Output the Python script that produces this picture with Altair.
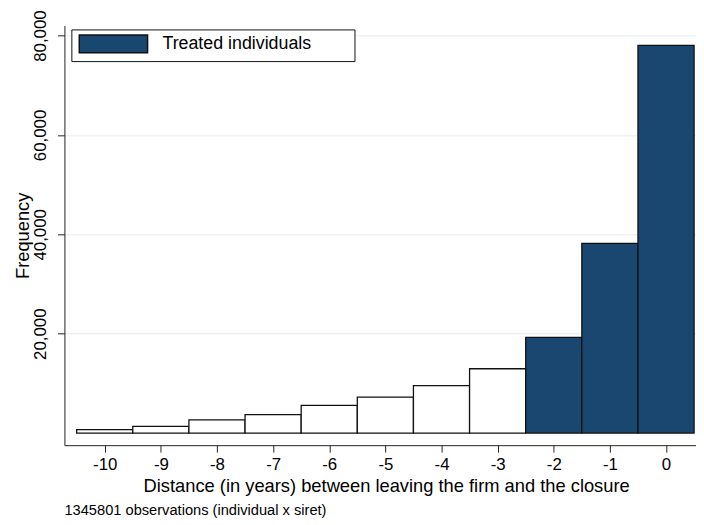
import altair as alt
import pandas as pd

# ---- data ----
distance = [-10, -9, -8, -7, -6, -5, -4, -3, -2, -1, 0]
frequency = [700, 1350, 2650, 3700, 5600, 7250, 9550, 12950, 19250, 38200, 78000]
group = ["Other"] * 8 + ["Treated individuals"] * 3
x_ticks = [-10, -9, -8, -7, -6, -5, -4, -3, -2, -1, 0]
y_ticks = [20000, 40000, 60000, 80000]
legend_labels = ["Treated individuals"]
x_title = "Distance (in years) between leaving the firm and the closure"
y_title = "Frequency"
note = "1345801 observations (individual x siret)"

FONT = "Liberation Sans"
NAVY = "#1a476f"

# legend key: a wide rectangle plus two invisible points that widen the legend frame
KEY_PATH = "M-4.348,0L-4.348,0M-4,-1.04H4V1.04H-4ZM27.3,0L27.3,0"

df = pd.DataFrame({"distance": distance, "frequency": frequency, "group": group})

chart = (
    alt.Chart(df)
    .transform_calculate(lo="datum.distance - 0.5", hi="datum.distance + 0.5")
    .mark_bar(stroke="#111111", strokeWidth=1.3, strokeJoin="miter")
    .encode(
        x=alt.X(
            "lo:Q",
            scale=alt.Scale(domain=[-10.718, 0.534], nice=False, zero=False),
            axis=alt.Axis(
                values=x_ticks,
                labelExpr="'' + datum.value",
                title=x_title,
                grid=False,
                tickSize=7,
                labelFontSize=17,
                labelPadding=5,
                titleFontSize=18.5,
                titleX=325,
                titleY=47,
                titleAlign="center",
                titleBaseline="alphabetic",
            ),
        ),
        x2="hi:Q",
        y=alt.Y(
            "frequency:Q",
            scale=alt.Scale(domain=[-2430, 82030], nice=False, zero=False),
            axis=alt.Axis(
                values=y_ticks,
                format=",.0f",
                title=y_title,
                grid=True,
                gridColor="#e4ecf0",
                gridWidth=1,
                tickSize=7,
                labelAngle=270,
                labelAlign="center",
                labelBaseline="bottom",
                labelPadding=8,
                labelFontSize=17,
                titleAngle=270,
                titleX=-36.7,
                titleY=212,
                titleAlign="center",
                titleBaseline="alphabetic",
                titleFontSize=18.5,
            ),
        ),
        y2=alt.datum(0),
        color=alt.Color(
            "group:N",
            scale=alt.Scale(domain=["Treated individuals", "Other"], range=[NAVY, "#ffffff"]),
            legend=alt.Legend(
                values=legend_labels,
                title=None,
                orient="none",
                legendX=7,
                legendY=4,
                symbolType=KEY_PATH,
                symbolSize=297.6,
                symbolStrokeColor="#111111",
                symbolStrokeWidth=1.5,
                symbolOpacity=1,
                symbolOffset=28,
                labelOffset=40,
                labelFontSize=18,
                labelFont=FONT,
                labelColor="black",
                labelLimit=400,
                padding=5,
                strokeColor="#111111",
                fillColor="white",
            ),
        ),
    )
    .properties(
        width=638,
        height=424,
        padding={"left": 57, "top": 15, "right": 0, "bottom": 78},
        autosize=alt.AutoSizeParams(type="none"),
        title=alt.TitleParams(
            note,
            orient="bottom",
            anchor="start",
            frame="group",
            fontSize=14.8,
            font=FONT,
            fontWeight="normal",
            color="black",
            offset=8,
        ),
    )
    .configure_view(stroke=None)
    .configure_axis(
        domainColor="#222222",
        tickColor="#222222",
        labelColor="black",
        titleColor="black",
        labelFont=FONT,
        titleFont=FONT,
        titleFontWeight="normal",
    )
)

chart.save("out.html", embed_options={"renderer": "svg", "actions": False})
